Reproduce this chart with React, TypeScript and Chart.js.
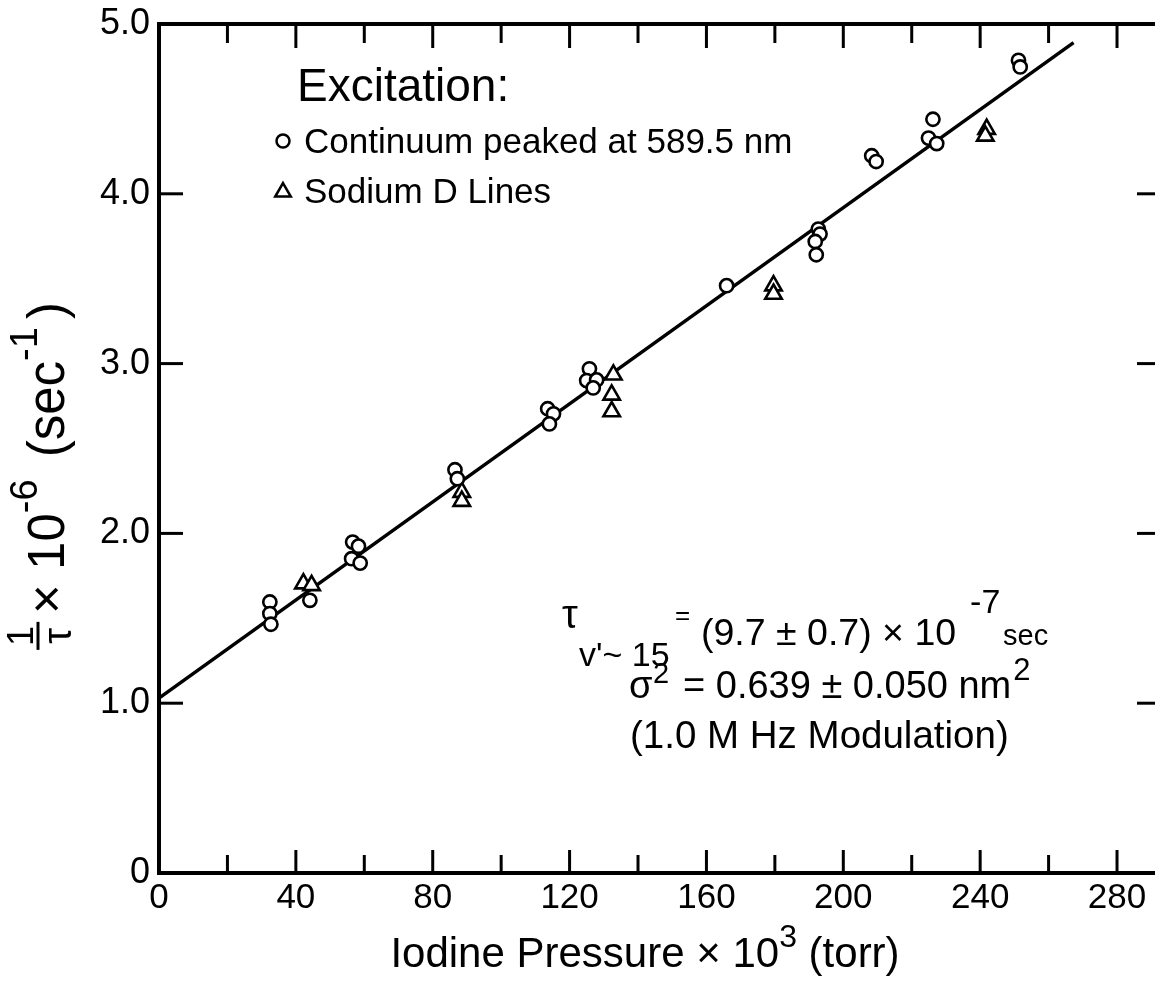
import React, { useEffect, useRef } from "react";
import { Chart, registerables } from "chart.js";

Chart.register(...registerables);

const FONT = '"Liberation Sans", Arial, sans-serif';

// Continuum peaked at 589.5 nm (circles)
const continuumX = [32.4, 32.4, 32.7, 44.1, 56.6, 58.3, 56.3, 58.8, 86.5, 87.2, 113.6, 115.3, 114.1, 125.8, 125.0, 127.9, 126.9, 165.9, 192.7, 193.2, 191.8, 192.1, 208.3, 209.6, 226.2, 224.9, 227.3, 251.2, 251.7];
const continuumY = [1.596, 1.528, 1.465, 1.606, 1.949, 1.925, 1.851, 1.825, 2.375, 2.322, 2.734, 2.704, 2.645, 2.969, 2.9, 2.904, 2.857, 3.459, 3.792, 3.763, 3.719, 3.641, 4.224, 4.19, 4.439, 4.328, 4.296, 4.786, 4.747];

// Sodium D lines (triangles)
const sodiumX = [42.2, 44.6, 88.5, 88.5, 132.8, 132.3, 132.3, 179.6, 179.6, 241.9, 241.5];
const sodiumY = [1.704, 1.694, 2.243, 2.19, 2.934, 2.816, 2.718, 3.459, 3.41, 4.381, 4.341];

// Fitted straight line
const fitX = [0, 267.3];
const fitY = [1.03, 4.89];

// Axis ticks
const xMajorTicks = [0, 40, 80, 120, 160, 200, 240, 280];
const xMinorTicks = [20, 60, 100, 140, 180, 220, 260];
const yTickValues = [0, 1, 2, 3, 4, 5];
const yTickLabels = ["0", "1.0", "2.0", "3.0", "4.0", "5.0"];

type Run = { t: string; s: number; dy?: number; gap?: number };

function runsWidth(ctx: CanvasRenderingContext2D, runs: Run[]) {
  let w = 0;
  for (const r of runs) {
    ctx.font = `${r.s}px ${FONT}`;
    w += ctx.measureText(r.t).width + (r.gap || 0);
  }
  return w;
}

function drawRuns(ctx: CanvasRenderingContext2D, x: number, y: number, runs: Run[]) {
  let cx = x;
  for (const r of runs) {
    ctx.font = `${r.s}px ${FONT}`;
    ctx.fillText(r.t, cx, y + (r.dy || 0));
    cx += ctx.measureText(r.t).width + (r.gap || 0);
  }
  return cx;
}

function drawTriangle(ctx: CanvasRenderingContext2D, x: number, y: number, r: number) {
  ctx.beginPath();
  let rad = 0;
  ctx.moveTo(x + Math.sin(rad) * r, y - Math.cos(rad) * r);
  rad += (2 * Math.PI) / 3;
  ctx.lineTo(x + Math.sin(rad) * r, y - Math.cos(rad) * r);
  rad += (2 * Math.PI) / 3;
  ctx.lineTo(x + Math.sin(rad) * r, y - Math.cos(rad) * r);
  ctx.closePath();
  ctx.stroke();
}

const decorPlugin = {
  id: "decor",
  afterDraw(chart: any) {
    const ctx: CanvasRenderingContext2D = chart.ctx;
    const xs = chart.scales.x;
    const ys = chart.scales.y;
    const area = chart.chartArea;
    ctx.save();
    ctx.strokeStyle = "#000";
    ctx.fillStyle = "#000";
    ctx.lineCap = "butt";

    // top frame line
    ctx.lineWidth = 4;
    ctx.beginPath();
    ctx.moveTo(area.left - 2, area.top);
    ctx.lineTo(area.right, area.top);
    ctx.stroke();

    // inward ticks
    ctx.lineWidth = 3;
    const tick = (x1: number, y1: number, x2: number, y2: number) => {
      ctx.beginPath();
      ctx.moveTo(x1, y1);
      ctx.lineTo(x2, y2);
      ctx.stroke();
    };
    for (const v of xMajorTicks) {
      if (v === 0) continue;
      const px = xs.getPixelForValue(v);
      tick(px, area.bottom, px, area.bottom - 23);
      tick(px, area.top, px, area.top + 24);
    }
    for (const v of xMinorTicks) {
      const px = xs.getPixelForValue(v);
      tick(px, area.bottom, px, area.bottom - 18);
      tick(px, area.top, px, area.top + 19);
    }
    for (const v of yTickValues) {
      if (v === 0 || v === 5) continue;
      const py = ys.getPixelForValue(v);
      tick(area.left, py, area.left + 24, py);
      tick(area.right, py, area.right - 18, py);
    }

    ctx.textAlign = "left";
    ctx.textBaseline = "alphabetic";

    // legend
    ctx.font = `46px ${FONT}`;
    ctx.fillText("Excitation:", 297, 101);
    ctx.lineWidth = 2.5;
    ctx.beginPath();
    ctx.arc(283, 141, 6.5, 0, Math.PI * 2);
    ctx.stroke();
    ctx.font = `35px ${FONT}`;
    ctx.fillText("Continuum peaked at 589.5 nm", 304, 153);
    drawTriangle(ctx, 283, 192, 9);
    ctx.fillText("Sodium D Lines", 304, 203);

    // annotation
    drawRuns(ctx, 562, 628, [{ t: "τ", s: 40 }]);
    drawRuns(ctx, 579, 666, [{ t: "v'~ 15", s: 34 }]);
    drawRuns(ctx, 675, 624, [{ t: "=", s: 26 }]);
    const ex = drawRuns(ctx, 701, 645, [{ t: "(9.7 ± 0.7) × 10", s: 37.5 }]);
    drawRuns(ctx, ex + 14, 613, [{ t: "-7", s: 34 }]);
    drawRuns(ctx, 1003, 645, [{ t: "sec", s: 29 }]);

    drawRuns(ctx, 629, 698, [{ t: "σ", s: 38 }]);
    drawRuns(ctx, 653, 683, [{ t: "2", s: 29 }]);
    const ex2 = drawRuns(ctx, 683, 698, [{ t: "= 0.639 ± 0.050 nm", s: 38 }]);
    drawRuns(ctx, ex2 + 2, 680, [{ t: "2", s: 31 }]);

    drawRuns(ctx, 630, 748, [{ t: "(1.0 M Hz Modulation)", s: 38.5 }]);

    // x-axis title
    const xRuns: Run[] = [
      { t: "Iodine Pressure × 10", s: 42 },
      { t: "3", s: 32, dy: -20 },
      { t: " (torr)", s: 42 },
    ];
    const xw = runsWidth(ctx, xRuns);
    drawRuns(ctx, 645 - xw / 2, 967, xRuns);

    // y-axis title (rotated)
    ctx.save();
    ctx.translate(64, 476);
    ctx.rotate(-Math.PI / 2);
    const tailRuns: Run[] = [
      { t: "× 10", s: 51 },
      { t: "-6", s: 38, dy: -27, gap: 8 },
      { t: " (sec", s: 51 },
      { t: "-1", s: 38, dy: -27, gap: 8 },
      { t: ")", s: 51 },
    ];
    const fracW = 28;
    const total = fracW + 8 + runsWidth(ctx, tailRuns);
    const x0 = -total / 2;
    // fraction 1/τ
    ctx.textAlign = "center";
    ctx.font = `36px ${FONT}`;
    ctx.fillText("1", x0 + fracW / 2, -31);
    ctx.font = `40px ${FONT}`;
    ctx.fillText("τ", x0 + fracW / 2, 7);
    ctx.lineWidth = 3;
    ctx.beginPath();
    ctx.moveTo(x0, -26);
    ctx.lineTo(x0 + fracW, -26);
    ctx.stroke();
    ctx.textAlign = "left";
    drawRuns(ctx, x0 + fracW + 8, 0, tailRuns);
    ctx.restore();

    ctx.restore();
  },
};

const zeroPadding = (s: any) => {
  s.paddingTop = 0;
  s.paddingBottom = 0;
  s.paddingLeft = 0;
  s.paddingRight = 0;
};

export default function App() {
  const ref = useRef<HTMLCanvasElement | null>(null);

  useEffect(() => {
    if (!ref.current) return;
    const chart = new Chart(ref.current, {
      type: "scatter",
      data: {
        datasets: [
          {
            label: "Continuum peaked at 589.5 nm",
            data: continuumX.map((x, i) => ({ x, y: continuumY[i] })),
            pointStyle: "circle",
            pointRadius: 6.6,
            pointBorderWidth: 2.6,
            borderColor: "#000",
            backgroundColor: "#fff",
            order: 1,
          },
          {
            label: "Sodium D Lines",
            data: sodiumX.map((x, i) => ({ x, y: sodiumY[i] })),
            pointStyle: "triangle",
            pointRadius: 9.5,
            pointBorderWidth: 2.6,
            borderColor: "#000",
            backgroundColor: "#fff",
            order: 2,
          },
          {
            type: "line",
            label: "fit",
            data: fitX.map((x, i) => ({ x, y: fitY[i] })),
            borderColor: "#000",
            borderWidth: 3.5,
            pointRadius: 0,
            showLine: true,
            fill: false,
            order: 3,
          } as any,
        ],
      },
      options: {
        animation: false,
        responsive: false,
        maintainAspectRatio: false,
        layout: { autoPadding: false, padding: { top: 24, right: 0, left: 0, bottom: 0 } },
        plugins: {
          legend: { display: false },
          tooltip: { enabled: false },
          title: { display: false },
        },
        scales: {
          x: {
            type: "linear",
            min: 0,
            max: 291.1,
            grid: { display: false, drawTicks: false },
            border: { display: true, width: 4, color: "#000" },
            ticks: {
              stepSize: 40,
              includeBounds: false,
              autoSkip: false,
              maxRotation: 0,
              padding: 4,
              color: "#000",
              font: { family: FONT, size: 35 },
              callback: (v: any) => (xMajorTicks.includes(Number(v)) ? String(v) : ""),
            },
            afterFit: (s: any) => {
              s.height = 109;
              zeroPadding(s);
            },
          },
          y: {
            type: "linear",
            min: 0,
            max: 5,
            grid: { display: false, drawTicks: false },
            border: { display: true, width: 4, color: "#000" },
            ticks: {
              stepSize: 1,
              autoSkip: false,
              padding: 9,
              color: "#000",
              font: { family: FONT, size: 36 },
              callback: (v: any) => {
                const i = yTickValues.indexOf(Number(v));
                return i >= 0 ? yTickLabels[i] : "";
              },
            },
            afterFit: (s: any) => {
              s.width = 159;
              zeroPadding(s);
            },
          },
        },
      },
      plugins: [decorPlugin],
    });
    return () => chart.destroy();
  }, []);

  return (
    <div style={{ position: "absolute", left: 0, top: 0, width: 1155, height: 982, background: "#fff" }}>
      <canvas ref={ref} width={1155} height={982} style={{ display: "block" }} />
    </div>
  );
}
